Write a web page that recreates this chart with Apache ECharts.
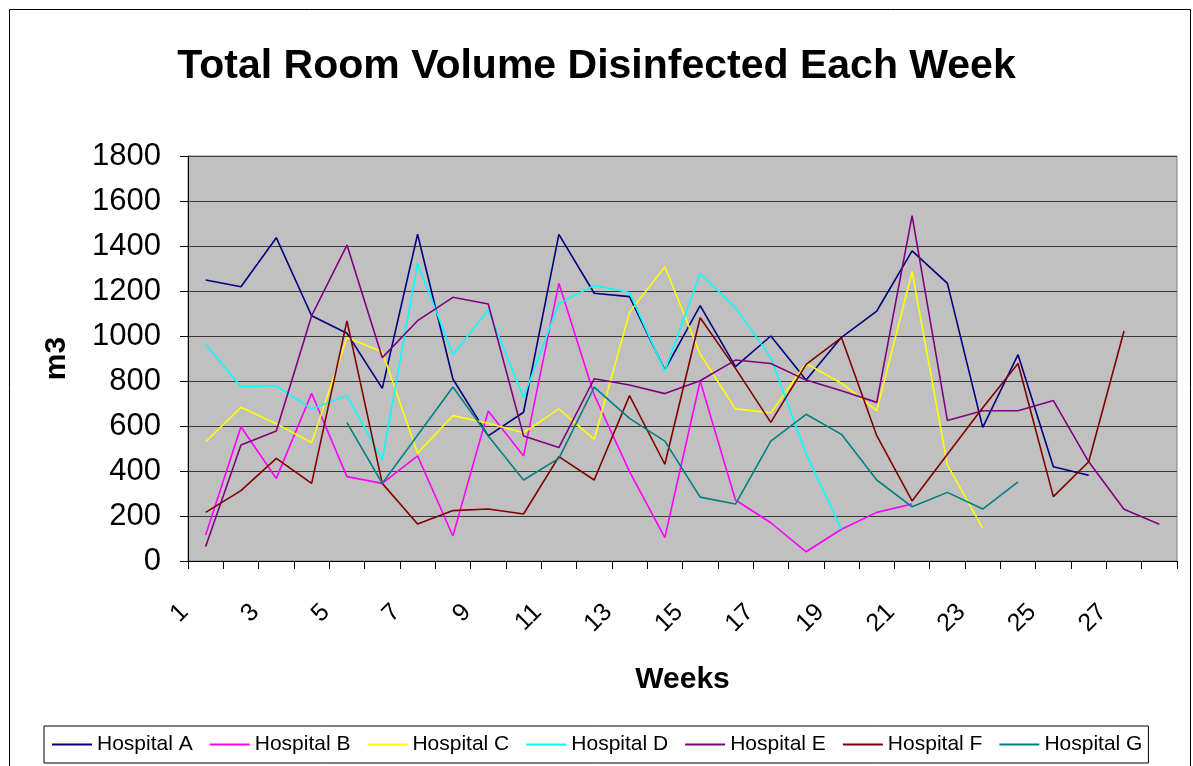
<!DOCTYPE html>
<html>
<head>
<meta charset="utf-8">
<script src="https://cdn.jsdelivr.net/npm/echarts@6/dist/echarts.min.js"></script>
<style>
  html, body { margin: 0; padding: 0; background: #fff; }
  #chart { width: 1193px; height: 766px; }
</style>
</head>
<body>
<div id="chart"></div>
<script>
// weeks 1..28
const weeks = Array.from({ length: 28 }, (_, i) => String(i + 1))

const hospitalA = [1249, 1219, 1437, 1090, 1012, 767, 1452, 809, 556, 661, 1452, 1190, 1175, 849, 1135, 864, 1000, 804, 994, 1111, 1378, 1234, 594, 917, 419, 381]
const hospitalB = [116, 597, 367, 745, 375, 345, 467, 111, 667, 467, 1234, 738, 397, 104, 800, 271, 170, 41, 141, 216, 253]
const hospitalC = [530, 683, 610, 526, 993, 930, 479, 646, 612, 570, 676, 541, 1105, 1308, 920, 676, 659, 878, 790, 668, 1286, 427, 145]
const hospitalD = [963, 775, 779, 676, 735, 449, 1323, 918, 1115, 727, 1145, 1225, 1193, 844, 1278, 1126, 904, 476, 141]
const hospitalE = [64, 516, 578, 1090, 1404, 904, 1068, 1172, 1142, 556, 504, 810, 782, 744, 801, 893, 878, 804, 757, 705, 1535, 624, 668, 668, 713, 441, 230, 163]
const hospitalF = [216, 313, 456, 345, 1067, 345, 164, 224, 231, 209, 464, 360, 735, 430, 1081, 856, 616, 874, 993, 557, 267, 474, 681, 878, 286, 441, 1022]
const hospitalG = [null, null, null, null, 615, 345, 559, 773, 556, 360, 456, 773, 634, 533, 284, 253, 533, 652, 563, 360, 241, 305, 231, 352]

const seriesNames = ['Hospital A', 'Hospital B', 'Hospital C', 'Hospital D', 'Hospital E', 'Hospital F', 'Hospital G']
const seriesData = [hospitalA, hospitalB, hospitalC, hospitalD, hospitalE, hospitalF, hospitalG]
const seriesColors = ['#000080', '#FF00FF', '#FFFF00', '#00FFFF', '#800080', '#800000', '#008080']

const font = 'Liberation Sans, Arial, sans-serif'
const chart = echarts.init(document.getElementById('chart'))

chart.setOption({
  animation: false,
  backgroundColor: '#fff',
  textStyle: { fontFamily: font },
  title: {
    text: 'Total Room Volume Disinfected Each Week',
    left: 'center',
    top: 41,
    textStyle: { fontFamily: font, fontSize: 41, fontWeight: 'bold', color: '#000' }
  },
  graphic: [{
    type: 'rect',
    shape: { x: 9.5, y: 9.5, width: 1181, height: 800 },
    style: { fill: 'none', stroke: '#000', lineWidth: 1 },
    silent: true
  }],
  legend: {
    data: seriesNames,
    icon: 'rect',
    left: 44,
    top: 726,
    padding: [8, 6, 8, 8],
    itemWidth: 40,
    itemHeight: 2,
    itemGap: 17,
    borderColor: '#000',
    borderWidth: 1,
    textStyle: { fontFamily: font, fontSize: 21, color: '#000' }
  },
  grid: {
    left: 188,
    right: 16,
    top: 156,
    bottom: 205,
    show: true,
    backgroundColor: '#C0C0C0',
    borderColor: '#808080',
    borderWidth: 1
  },
  xAxis: {
    type: 'category',
    data: weeks,
    boundaryGap: true,
    name: 'Weeks',
    nameLocation: 'middle',
    nameGap: 104,
    nameTextStyle: { fontFamily: font, fontSize: 30, fontWeight: 'bold', color: '#000' },
    axisLine: { lineStyle: { color: '#000', width: 1 } },
    axisTick: { show: true, interval: 0, length: 8, lineStyle: { color: '#000' } },
    axisLabel: {
      interval: 1,
      rotate: 45,
      margin: 26,
      padding: [0, 30, 0, 0],
      fontFamily: font,
      fontSize: 25,
      color: '#000'
    },
    splitLine: { show: false }
  },
  yAxis: {
    type: 'value',
    min: 0,
    max: 1800,
    interval: 200,
    name: 'm3',
    nameLocation: 'middle',
    nameRotate: 90,
    nameGap: 116,
    nameTextStyle: { fontFamily: font, fontSize: 30, fontWeight: 'bold', color: '#000' },
    axisLine: { show: true, lineStyle: { color: '#000', width: 1 } },
    axisTick: { show: true, length: 8, lineStyle: { color: '#000' } },
    axisLabel: { margin: 27, fontFamily: font, fontSize: 31, color: '#000', formatter: (v) => String(v) },
    splitLine: { show: true, lineStyle: { color: '#3a3a3a', width: 1 } }
  },
  series: seriesNames.map((name, i) => ({
    name: name,
    type: 'line',
    data: seriesData[i],
    symbol: 'none',
    color: seriesColors[i],
    lineStyle: { color: seriesColors[i], width: 1.6 },
    connectNulls: false
  }))
})
</script>
</body>
</html>
